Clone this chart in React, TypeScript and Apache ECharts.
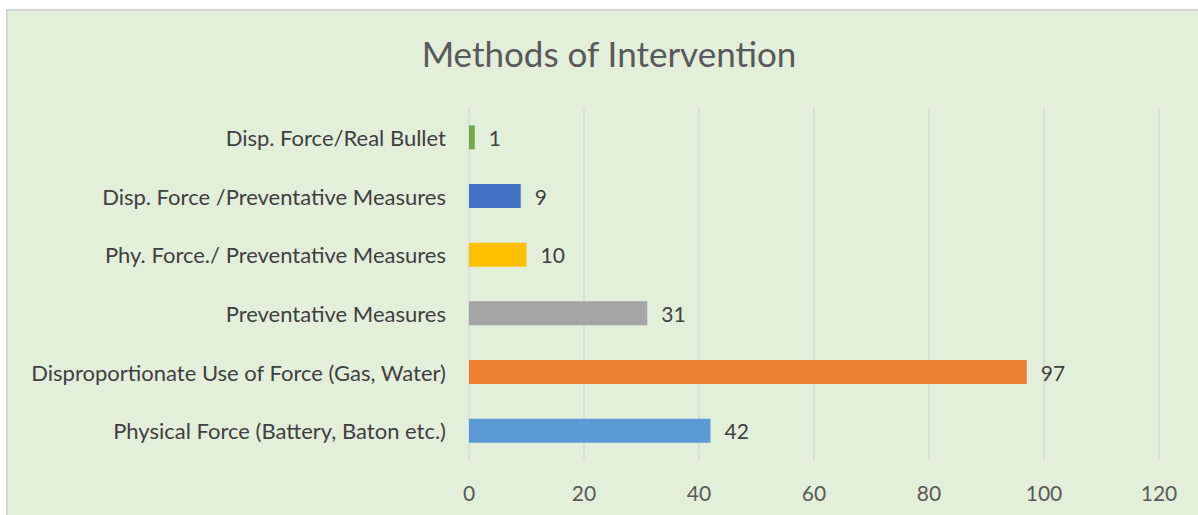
import React, { useEffect, useRef } from "react";
import * as echarts from "echarts";

const categories = [
  "Physical Force (Battery, Baton etc.)",
  "Disproportionate Use of Force (Gas, Water)",
  "Preventative Measures",
  "Phy. Force./ Preventative Measures",
  "Disp. Force /Preventative Measures",
  "Disp. Force/Real Bullet",
];
const values = [42, 97, 31, 10, 9, 1];
const colors = ["#5B9BD5", "#ED7D31", "#A5A5A5", "#FFC000", "#4472C4", "#70AD47"];
const title = "Methods of Intervention";

export default function App() {
  const ref = useRef<HTMLDivElement>(null);
  useEffect(() => {
    document.body.style.margin = "0";
    const chart = echarts.init(ref.current!, null, { renderer: "svg" });
    const font = "Lato";
    chart.setOption({
      animation: false,
      backgroundColor: "#FFFFFF",
      graphic: [
        {
          type: "rect",
          z: -10,
          silent: true,
          shape: { x: 7, y: 10, width: 1250, height: 560 },
          style: { fill: "#E2EFDA", stroke: "#D6D6D6", lineWidth: 2 },
        },
      ],
      title: {
        text: title,
        left: 604,
        textAlign: "center",
        top: 30,
        textStyle: { fontFamily: font, fontSize: 35, fontWeight: "normal", color: "#595959" },
      },
      grid: { left: 469, right: 39, top: 108, bottom: 55, containLabel: false },
      xAxis: {
        type: "value",
        min: 0,
        max: 120,
        interval: 20,
        axisLine: { show: false },
        axisTick: { show: false },
        splitLine: { lineStyle: { color: "#D9D9D9", width: 1.5 } },
        axisLabel: { fontFamily: font, fontSize: 21, color: "#595959", margin: 22 },
      },
      yAxis: {
        type: "category",
        data: categories,
        axisLine: { show: false },
        axisTick: { show: false },
        axisLabel: { fontFamily: font, fontSize: 22, color: "#404040", margin: 23 },
      },
      series: [
        {
          type: "bar",
          barWidth: 24,
          data: values.map((v, i) => ({ value: v, itemStyle: { color: colors[i] } })),
          label: {
            show: true,
            position: "right",
            distance: 14,
            fontFamily: font,
            fontSize: 21,
            color: "#404040",
          },
        },
      ],
    });
    return () => chart.dispose();
  }, []);
  return <div ref={ref} style={{ width: 1198, height: 515 }} />;
}
